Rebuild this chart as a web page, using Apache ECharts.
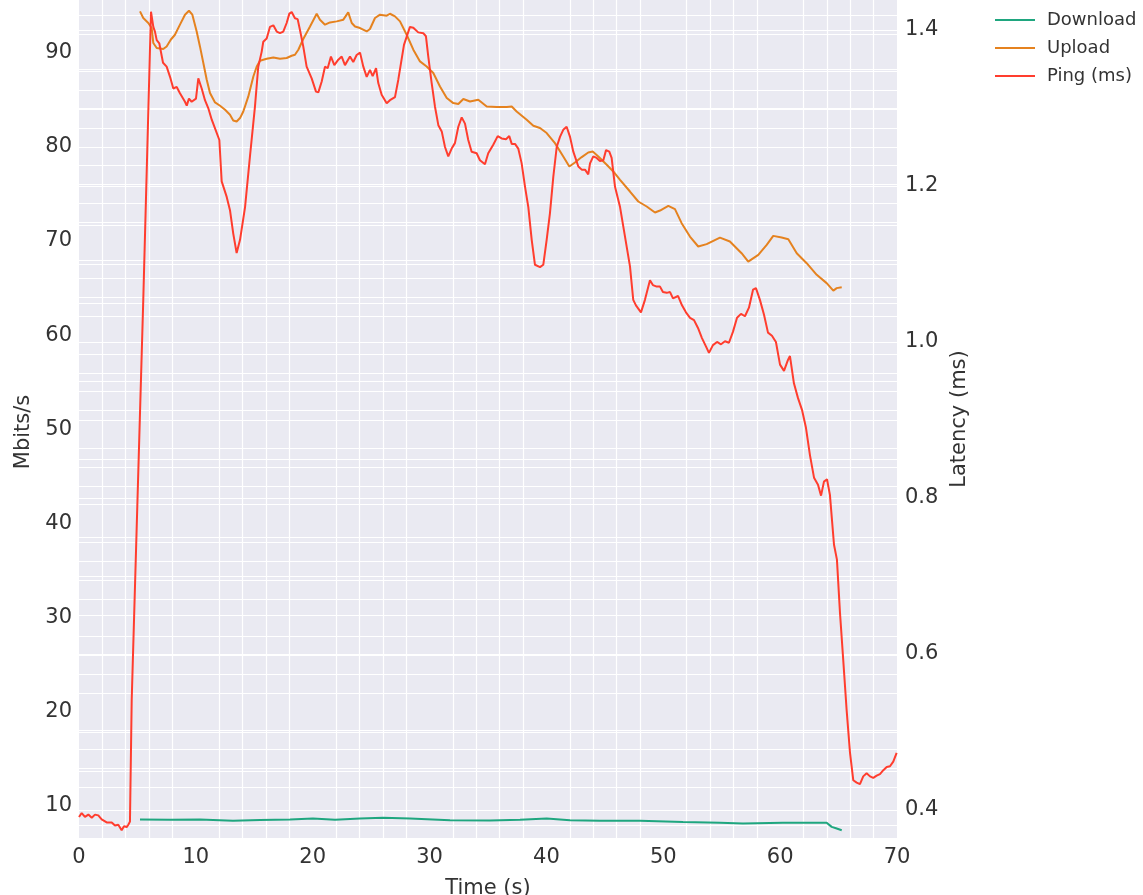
<!DOCTYPE html>
<html>
<head>
<meta charset="utf-8">
<script src="https://cdn.jsdelivr.net/npm/echarts@6/dist/echarts.min.js"></script>
<style>
html,body{margin:0;padding:0;background:#fff;}
#chart{width:1143px;height:895px;}
</style>
</head>
<body>
<div id="chart"></div>
<script>
// ---- data ----
const pingTime = [0.00,0.23,0.51,0.80,1.09,1.37,1.65,1.94,2.37,2.80,
 3.08,3.36,3.65,3.85,4.08,4.22,4.36,4.51,5.50,6.16,6.36,
 6.50,6.65,6.87,7.19,7.50,7.79,8.07,8.36,8.64,9.07,
 9.22,9.41,9.64,10.01,10.21,10.50,10.78,11.06,11.36,11.64,
 12.01,12.21,12.64,12.92,13.20,13.49,13.78,14.21,14.63,15.06,
 15.34,15.63,15.77,16.06,16.34,16.63,16.92,17.20,17.48,17.77,
 18.00,18.20,18.48,18.71,18.91,19.19,19.48,19.91,20.28,20.48,
 20.77,21.05,21.28,21.56,21.85,22.19,22.48,22.76,23.19,23.47,
 23.76,24.05,24.33,24.62,24.90,25.13,25.42,25.61,25.90,26.33,
 26.61,27.04,27.32,27.81,28.32,28.61,29.03,29.46,29.69,29.89,
 30.18,30.46,30.75,31.04,31.32,31.60,31.89,32.17,32.46,32.75,
 33.03,33.31,33.60,34.03,34.31,34.74,35.02,35.45,35.83,36.17,
 36.54,36.82,37.03,37.31,37.59,37.88,38.17,38.45,38.74,39.02,
 39.45,39.73,40.02,40.30,40.59,40.88,41.16,41.44,41.73,42.02,
 42.30,42.73,43.02,43.30,43.58,43.73,44.01,44.30,44.58,44.87,
 45.10,45.38,45.58,45.87,46.30,46.58,46.87,47.15,47.43,47.66,
 48.09,48.43,48.86,49.11,49.44,49.72,49.97,50.29,50.58,50.83,
 51.26,51.60,51.94,52.29,52.63,52.97,53.31,53.66,53.91,54.25,
 54.60,54.94,55.28,55.62,55.96,56.31,56.65,56.99,57.33,57.68,
 57.93,58.27,58.62,58.96,59.30,59.64,59.99,60.33,60.67,60.84,
 61.18,61.53,61.87,62.21,62.55,62.90,63.24,63.50,63.75,64.01,
 64.26,64.61,64.86,65.12,65.40,65.69,65.98,66.26,66.55,66.83,
 67.11,67.40,67.69,67.97,68.26,68.54,68.83,69.12,69.40,69.68,
 69.97];
const pingMs = [0.391,0.396,0.391,0.394,0.390,0.394,0.393,0.388,0.384,0.384,
 0.380,0.381,0.374,0.379,0.378,0.381,0.385,0.541,1.054,1.4235,1.404,
 1.398,1.387,1.383,1.358,1.353,1.340,1.325,1.327,1.319,1.308,
 1.303,1.312,1.308,1.312,1.338,1.325,1.310,1.300,1.285,1.274,
 1.259,1.206,1.186,1.169,1.139,1.114,1.131,1.173,1.238,1.302,
 1.353,1.372,1.385,1.389,1.404,1.406,1.398,1.396,1.398,1.409,
 1.421,1.423,1.415,1.414,1.400,1.379,1.353,1.338,1.321,1.320,
 1.334,1.353,1.351,1.366,1.355,1.362,1.366,1.355,1.366,1.359,
 1.368,1.371,1.353,1.340,1.349,1.341,1.351,1.332,1.317,1.306,
 1.310,1.314,1.336,1.381,1.404,1.403,1.397,1.396,1.392,1.366,
 1.332,1.302,1.278,1.270,1.250,1.238,1.248,1.255,1.276,1.288,
 1.280,1.259,1.244,1.242,1.233,1.228,1.242,1.253,1.264,1.261,
 1.260,1.264,1.254,1.254,1.248,1.229,1.199,1.173,1.131,1.099,
 1.096,1.099,1.131,1.165,1.212,1.250,1.263,1.272,1.276,1.263,
 1.244,1.225,1.221,1.221,1.215,1.229,1.238,1.236,1.232,1.233,
 1.246,1.244,1.236,1.199,1.173,1.148,1.122,1.097,1.054,1.047,
 1.038,1.054,1.079,1.073,1.071,1.071,1.064,1.063,1.064,1.056,
 1.059,1.047,1.038,1.031,1.028,1.018,1.005,0.994,0.986,0.996,
 1.000,0.997,1.001,0.999,1.013,1.031,1.036,1.033,1.044,1.067,
 1.069,1.054,1.035,1.012,1.008,1.000,0.971,0.963,0.977,0.982,
 0.947,0.928,0.913,0.890,0.855,0.826,0.817,0.803,0.821,0.824,
 0.804,0.740,0.721,0.653,0.592,0.528,0.473,0.438,0.435,0.433,
 0.443,0.447,0.443,0.441,0.444,0.446,0.451,0.455,0.456,0.462,
 0.473];

const uploadTime = [5.22,5.50,5.93,6.22,6.36,6.65,7.21,7.50,7.85,8.21,
 8.64,9.07,9.41,9.70,10.07,10.35,10.64,10.93,11.21,11.64,
 12.07,12.50,12.92,13.20,13.49,13.78,14.06,14.49,14.92,15.21,
 15.49,16.06,16.63,17.20,17.77,18.20,18.48,18.77,19.19,19.77,
 20.34,20.62,21.05,21.48,22.05,22.62,23.04,23.34,23.62,24.05,
 24.62,24.90,25.33,25.76,26.33,26.61,27.04,27.47,28.04,28.61,
 29.18,29.75,30.32,30.89,31.47,32.03,32.46,32.89,33.46,34.17,
 34.89,35.74,36.60,37.03,37.45,38.31,38.88,39.45,40.02,40.73,
 41.44,41.96,42.44,43.02,43.58,43.96,44.44,45.16,45.72,46.30,
 47.15,47.86,48.58,49.29,49.72,50.43,51.00,51.57,52.28,52.99,
 53.71,54.85,55.70,56.70,57.27,58.13,58.85,59.41,60.13,60.70,
 61.42,62.27,63.13,63.98,64.55,64.84,65.27];
const uploadMbits = [94.39,93.69,93.16,92.62,91.03,90.50,90.39,90.67,91.38,91.91,
 92.98,94.04,94.46,94.04,92.26,90.67,88.91,87.13,85.72,84.72,
 84.37,83.94,83.41,82.81,82.70,83.06,83.76,85.36,87.48,88.54,
 89.15,89.36,89.50,89.36,89.44,89.68,89.79,90.32,91.46,92.79,
 94.14,93.51,92.98,93.22,93.33,93.51,94.28,93.16,92.79,92.62,
 92.26,92.52,93.69,94.04,93.93,94.14,93.86,93.33,91.91,90.32,
 89.08,88.54,87.84,86.42,85.19,84.65,84.55,85.08,84.82,85.01,
 84.29,84.23,84.23,84.29,83.76,82.88,82.24,82.00,81.47,80.40,
 78.98,77.92,78.34,78.92,79.40,79.51,78.98,78.10,77.39,76.50,
 75.26,74.20,73.67,73.03,73.24,73.74,73.39,71.90,70.48,69.42,
 69.67,70.37,69.95,68.71,67.82,68.53,69.60,70.55,70.37,70.20,
 68.71,67.65,66.41,65.53,64.74,65.00,65.10];

const downloadTime = [5.22,7.79,10.35,13.18,15.49,18.06,20.02,21.91,24.05,26.01,28.32,31.75,35.17,37.74,40.02,42.02,44.58,48.01,51.69,54.85,56.82,60.24,63.98,64.41,64.78,65.27];
const downloadMbits = [8.57,8.55,8.57,8.42,8.52,8.57,8.67,8.55,8.67,8.74,8.67,8.49,8.47,8.55,8.67,8.49,8.42,8.42,8.31,8.22,8.14,8.21,8.21,7.78,7.64,7.43];

const seriesNames = ['Download', 'Upload', 'Ping (ms)'];
const xTicks = [0,10,20,30,40,50,60,70];
const leftTicks = [10,20,30,40,50,60,70,80,90];
const rightTicks = [0.4,0.6,0.8,1.0,1.2,1.4];

// axis ranges
const xRange = [0, 70];
const leftRange = [6.6, 95.6];
const rightRange = [0.364, 1.4385];

// grid lines (values on the axes)
const xGridVals = [];
for (let v = 2; v < 70; v += 2) if (v % 10 !== 0) xGridVals.push(v);
const leftGridVals = [];
for (let v = 8; v < 96; v += 2) if (v % 10 !== 0) leftGridVals.push(v);
const rightGridVals = [];
for (let i = 8; i <= 28; i++) rightGridVals.push(+(i * 0.05).toFixed(2));

const zip = (a, b) => a.map((x, i) => [x, b[i]]);
const FONT = 'DejaVu Sans';
const TXT = '#333';
const gridLineStyle = {color: '#ffffff', width: 1.2, type: 'solid', opacity: 1};

const chart = echarts.init(document.getElementById('chart'), null, {renderer: 'canvas'});
const isTick = (v, list) => list.some(t => Math.abs(t - v) < 1e-6);

chart.setOption({
  animation: false,
  textStyle: {fontFamily: FONT},
  grid: {left: 79, right: 246, top: 0, bottom: 57, show: true, backgroundColor: '#eaeaf2', borderWidth: 0,
    containLabel: false, outerBoundsMode: 'none'},
  legend: {
    data: seriesNames, orient: 'vertical', left: 990, top: 6, itemGap: 10,
    itemWidth: 40, itemHeight: 2, icon: 'rect',
    textStyle: {fontSize: 18, color: TXT, fontFamily: FONT, padding: [0, 0, 0, 7]}
  },
  xAxis: {
    type: 'value', min: xRange[0], max: xRange[1], interval: 10,
    name: 'Time (s)', nameLocation: 'middle', nameGap: 40,
    nameTextStyle: {fontSize: 21, color: TXT, fontFamily: FONT},
    axisLine: {show: false}, axisTick: {show: false}, splitLine: {show: false},
    axisLabel: {fontSize: 21, color: TXT, margin: 9, fontFamily: FONT,
      formatter: v => isTick(v, xTicks) ? String(Math.round(v)) : ''}
  },
  yAxis: [
    {
      // ticks are counted from min, so a fine step lets the labels land on 10, 20, ...
      type: 'value', min: leftRange[0], max: leftRange[1], interval: 0.2,
      name: 'Mbits/s', nameLocation: 'middle', nameGap: 40,
      nameTextStyle: {fontSize: 21, color: TXT, fontFamily: FONT, padding: [0, 26, 0, 0]},
      axisLine: {show: false}, axisTick: {show: false}, splitLine: {show: false},
      axisLabel: {fontSize: 21, color: TXT, margin: 7, fontFamily: FONT, hideOverlap: false,
        showMinLabel: false, showMaxLabel: false, padding: [14, 0, 0, 0],
        formatter: v => isTick(v, leftTicks) ? String(Math.round(v)) : ''}
    },
    {
      type: 'value', min: rightRange[0], max: rightRange[1], interval: 0.004,
      position: 'right',
      name: 'Latency (ms)', nameLocation: 'middle', nameGap: 44,
      nameTextStyle: {fontSize: 21, color: TXT, fontFamily: FONT},
      axisLine: {show: false}, axisTick: {show: false}, splitLine: {show: false},
      axisLabel: {fontSize: 21, color: TXT, margin: 8, fontFamily: FONT, hideOverlap: false,
        showMinLabel: false, showMaxLabel: false, padding: [14, 0, 0, 0],
        formatter: v => isTick(v, rightTicks) ? v.toFixed(1) : ''}
    }
  ],
  series: [
    {
      name: 'Download', type: 'line', yAxisIndex: 0, showSymbol: false, symbol: 'none',
      data: zip(downloadTime, downloadMbits),
      lineStyle: {color: '#1fa67f', width: 2}, itemStyle: {color: '#1fa67f'}, z: 3,
      markLine: {
        silent: true, symbol: ['none', 'none'], label: {show: false}, z: 1, animation: false,
        lineStyle: gridLineStyle,
        data: xGridVals.map(v => ({xAxis: v})).concat(leftGridVals.map(v => ({yAxis: v})))
      }
    },
    {
      name: 'Upload', type: 'line', yAxisIndex: 0, showSymbol: false, symbol: 'none',
      data: zip(uploadTime, uploadMbits),
      lineStyle: {color: '#e5821f', width: 2}, itemStyle: {color: '#e5821f'}, z: 3
    },
    {
      name: 'Ping (ms)', type: 'line', yAxisIndex: 1, showSymbol: false, symbol: 'none',
      data: zip(pingTime, pingMs),
      lineStyle: {color: '#ff3d2e', width: 2}, itemStyle: {color: '#ff3d2e'}, z: 4,
      markLine: {
        silent: true, symbol: ['none', 'none'], label: {show: false}, z: 1, animation: false,
        lineStyle: gridLineStyle,
        data: rightGridVals.map(v => ({yAxis: v}))
      }
    }
  ]
});
</script>
</body>
</html>
